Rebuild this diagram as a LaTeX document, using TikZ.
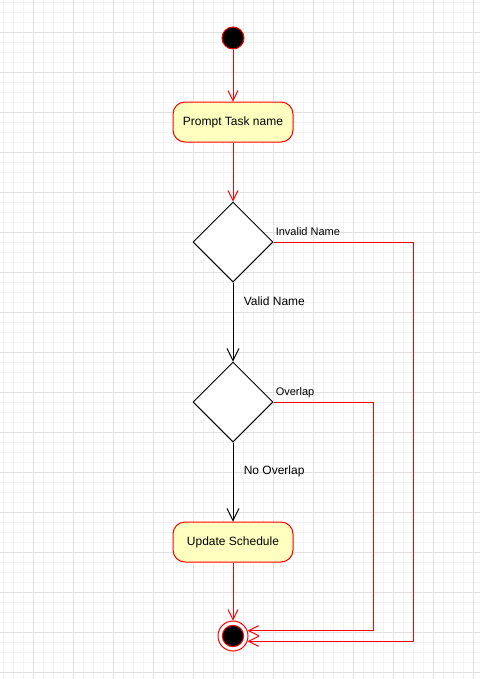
\documentclass[tikz,border=0pt]{standalone}
\usepackage{fontspec}
\setmainfont{Liberation Sans}
\usetikzlibrary{arrows.meta,shapes.geometric}
\definecolor{boxfill}{HTML}{FFFFC0}
\definecolor{gridminor}{HTML}{F3F3F3}
\definecolor{gridmajor}{HTML}{E0E0E0}
\definecolor{umlred}{HTML}{FF0000}
\tikzset{
  actbox/.style={draw=umlred, fill=boxfill, rounded corners=9pt, line width=0.75pt,
    minimum width=90pt, minimum height=30pt, inner sep=0pt, font=\fontsize{9}{11}\selectfont},
  decbox/.style={draw=black, fill=white, diamond, aspect=1, minimum width=60pt,
    minimum height=60pt, inner sep=0pt, line width=0.75pt},
  redflow/.style={draw=umlred, line width=0.75pt, -{Straight Barb[length=7.5pt,width=7.5pt]}},
  blackflow/.style={draw=black, line width=0.75pt, -{Straight Barb[length=9pt,width=9pt]}},
  guard/.style={anchor=west, inner sep=0pt, font=\fontsize{8.25}{10}\selectfont},
  guardbig/.style={anchor=west, inner sep=0pt, font=\fontsize{9}{11}\selectfont},
}
\begin{document}
\begin{tikzpicture}[x=0.75pt,y=-0.75pt]
\useasboundingbox (0,0) rectangle (480,679);
\fill[white] (0,0) rectangle (480,679);
% grid
\foreach \gx in {3,13,...,473} \draw[gridminor,line width=0.75pt] (\gx,0) -- (\gx,679);
\foreach \gy in {2,12,...,672} \draw[gridminor,line width=0.75pt] (0,\gy) -- (480,\gy);
\foreach \gx in {33,73,...,473} \draw[gridmajor,line width=0.75pt] (\gx,0) -- (\gx,679);
\foreach \gy in {32,72,...,672} \draw[gridmajor,line width=0.75pt] (0,\gy) -- (480,\gy);

% nodes
\node[circle, draw=umlred, fill=black, minimum size=16.5pt, inner sep=0pt, line width=0.75pt] (start) at (233,38) {};
\node[actbox] (prompt) at (233,122) {Prompt Task name};
\node[decbox] (d1) at (233,242) {};
\node[decbox] (d2) at (233,402) {};
\node[actbox] (update) at (233,542) {Update Schedule};
\node[circle, draw=umlred, fill=white, minimum size=22.5pt, inner sep=0pt, line width=0.75pt] (endc) at (233,636) {};
\node[circle, draw=umlred, fill=black, minimum size=16pt, inner sep=0pt, line width=0.75pt] (endin) at (233,636) {};

\coordinate (r1) at (413,242);
\coordinate (r2) at (373,402);

% connectors
\draw[redflow] (start) -- (prompt);
\draw[redflow] (prompt) -- (d1.north);
\draw[blackflow] (d1.south) -- (d2.north);
\draw[blackflow] (d2.south) -- (update.north);
\draw[redflow] (update) -- (endc.north);
\draw[redflow] (d1.east) -- (r1) |- (endc.-20);
\draw[redflow] (d2.east) -- (r2) |- (endc.20);

% labels
\node[guard] (linvalid) at (275.5,232) {Invalid Name};
\node[guardbig] (lvalid) at (243.5,301.5) {Valid Name};
\node[guard] (loverlap) at (275.5,392.5) {Overlap};
\node[guardbig] (lnooverlap) at (243.5,471.5) {No Overlap};
\end{tikzpicture}
\end{document}
